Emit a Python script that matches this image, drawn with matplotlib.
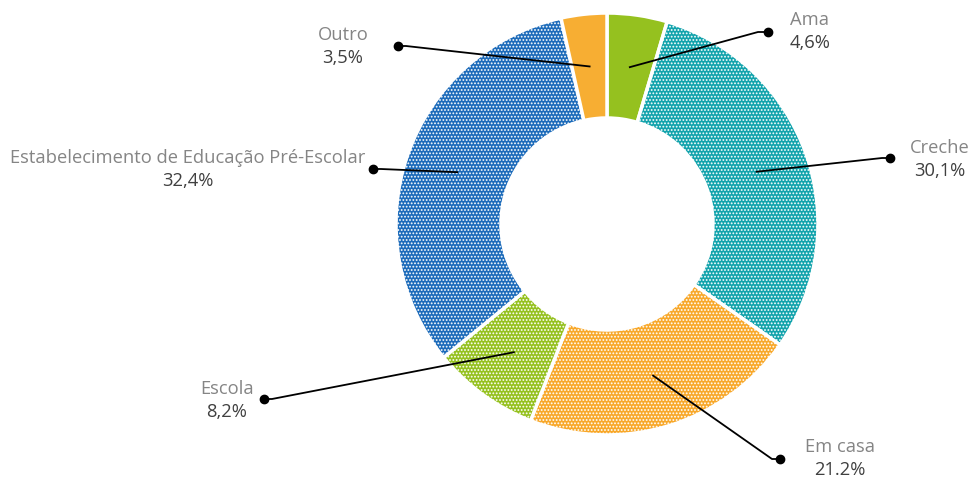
import numpy as np
import matplotlib
matplotlib.use("Agg")
import matplotlib.pyplot as plt

plt.rcParams["hatch.linewidth"] = 0.85

categories = ["Ama", "Creche", "Em casa", "Escola", "Estabelecimento de Educação Pré-Escolar", "Outro"]
values = [4.6, 30.1, 21.2, 8.2, 32.4, 3.5]
pct_labels = ["4,6%", "30,1%", "21.2%", "8,2%", "32,4%", "3,5%"]
colors = ["#95C11F", "#12A3AC", "#F8A82A", "#95C11F", "#1C6BBA", "#F7AE33"]
hatches = [None, ".....", ".....", ".....", ".....", None]

# layout (pixel coords, y from top)
W, H = 974, 479
cx, cy = 607, 224
R_out, ring = 211, 105
dots = [(768, 32), (890, 158), (780, 459), (264, 399), (373, 169), (398, 46)]
text_pos = [(810, 20), (940, 148), (840, 447), (227, 389), (188, 158), (343, 35)]
elbow = [-10, -8, -8, 8, 8, 8]

fig = plt.figure(figsize=(W / 100, H / 100), dpi=100)
ax = fig.add_axes([0, 0, 1, 1])

wedges, _ = ax.pie(values, colors=colors, startangle=90, counterclock=False,
                   radius=R_out, center=(cx, H - cy),
                   wedgeprops=dict(width=ring, edgecolor="white", linewidth=2.5))
for w, h in zip(wedges, hatches):
    if h:
        w.set_hatch(h)

ax.set_xlim(0, W)
ax.set_ylim(0, H)
ax.set_aspect("equal")
ax.axis("off")

r_mid = R_out - ring / 2
for w, (dx, dy), e, (tx, ty), lab, pct in zip(wedges, dots, elbow, text_pos, categories, pct_labels):
    ang = np.deg2rad((w.theta1 + w.theta2) / 2)
    ax_ = cx + r_mid * np.cos(ang)
    ay_ = (H - cy) + r_mid * np.sin(ang)
    ax.plot([ax_, dx + e, dx], [ay_, H - dy, H - dy], color="black", lw=1.3, zorder=5)
    ax.plot([dx], [H - dy], "o", color="black", ms=6, zorder=6)
    ax.text(tx, H - ty, lab, ha="center", va="center", fontsize=13.2,
            family="Open Sans", color="#858585")
    ax.text(tx, H - ty - 23, pct, ha="center", va="center", fontsize=13.2,
            family="Open Sans", color="#404040")

fig.savefig("out.png", dpi=100)
